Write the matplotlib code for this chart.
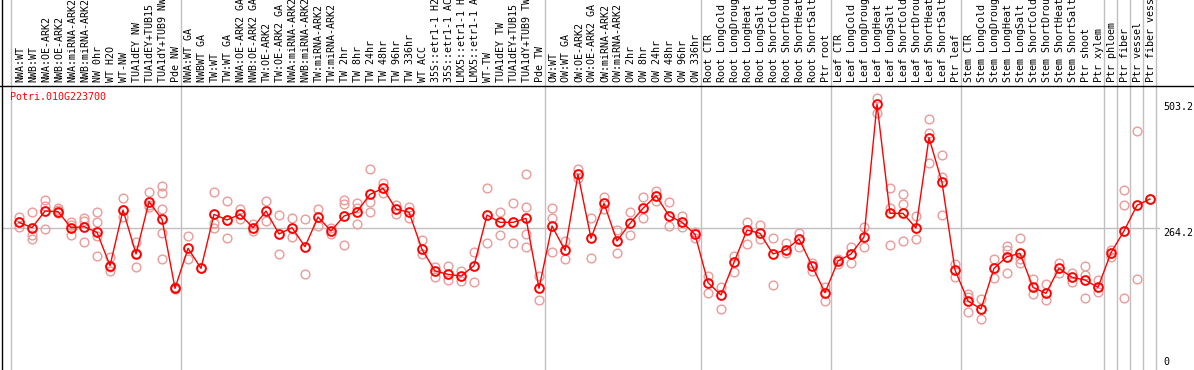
import matplotlib
matplotlib.use("Agg")
import matplotlib.pyplot as plt
from matplotlib.lines import Line2D
from matplotlib.transforms import blended_transform_factory

gene = "Potri.010G223700"

labels = [
    "NWA:WT", "NWB:WT", "NWA:OE-ARK2", "NWB:OE-ARK2", "NWA:miRNA-ARK2", "NWB:miRNA-ARK2",
    "NW 0hr", "WT H2O", "WT-NW", "TUA1dEY NW", "TUA1dEY+TUB15 NW", "TUA1dY+TUB9 NW", "Pde NW",
    "NWA:WT GA", "NWBWT GA", "TW:WT", "TW:WT GA", "NWA:OE-ARK2 GA", "NWB:OE-ARK2 GA",
    "TW:OE-ARK2", "TW:OE-ARK2 GA", "NWA:miRNA-ARK2 GA", "NWB:miRNA-ARK2 GA", "TW:miRNA-ARK2",
    "TW:miRNA-ARK2 GA", "TW 2hr", "TW 8hr", "TW 24hr", "TW 48hr", "TW 96hr", "TW 336hr",
    "WT ACC", "35S::etr1-1 H2O", "35S::etr1-1 ACC", "LMX5::etr1-1 H2O", "LMX5::etr1-1 ACC",
    "WT-TW", "TUA1dEY TW", "TUA1dEY+TUB15 TW", "TUA1dY+TUB9 TW", "Pde TW",
    "OW:WT", "OW:WT GA", "OW:OE-ARK2", "OW:OE-ARK2 GA", "OW:miRNA-ARK2", "OW:miRNA-ARK2 GA",
    "OW 2hr", "OW 8hr", "OW 24hr", "OW 48hr", "OW 96hr", "OW 336hr",
    "Root CTR", "Root LongCold", "Root LongDrought", "Root LongHeat", "Root LongSalt",
    "Root ShortCold", "Root ShortDrought", "Root ShortHeat", "Root ShortSalt", "Ptr root",
    "Leaf CTR", "Leaf LongCold", "Leaf LongDrought", "Leaf LongHeat", "Leaf LongSalt",
    "Leaf ShortCold", "Leaf ShortDrought", "Leaf ShortHeat", "Leaf ShortSalt", "Ptr leaf",
    "Stem CTR", "Stem LongCold", "Stem LongDrought", "Stem LongHeat", "Stem LongSalt",
    "Stem ShortCold", "Stem ShortDrought", "Stem ShortHeat", "Stem ShortSalt", "Ptr shoot",
    "Ptr xylem", "Ptr phloem", "Ptr fiber", "Ptr vessel", "Ptr fiber vessel",
]

group_sizes = [13, 28, 12, 10, 10, 11, 1, 1, 1, 1]

means = [
    275.0, 264.7, 296.8, 295.6, 264.7, 266.6, 255.7, 191.5, 298.8, 214.0, 314.8, 280.8, 147.8,
    224.9, 186.3, 290.4, 279.5, 290.4, 264.7, 296.8, 252.5, 264.7, 228.1, 285.3, 258.3, 287.2,
    295.6, 329.0, 340.5, 300.7, 294.3, 222.9, 181.2, 174.8, 171.5, 191.5, 289.1, 275.0, 275.0,
    282.7, 147.8,
    267.9, 221.0, 367.5, 244.2, 311.6, 239.0, 273.1, 302.0, 326.4, 287.8, 275.0, 251.9,
    158.7, 134.9, 197.9, 260.2, 253.8, 214.0, 222.3, 242.9, 191.5, 139.4,
    200.5, 214.0, 246.7, 503.2, 292.3, 292.3, 264.1, 438.2, 352.1, 183.1,
    123.4, 107.9, 186.3, 208.8, 215.2, 149.7, 138.1, 186.3, 169.0, 163.8, 149.7,
    216.5, 258.3, 307.8, 320.0,
]

replicates = [
    [285.9, 275.0, 266.6], [294.3, 250.6, 242.9], [318.0, 306.5, 261.5], [302.0, 298.8, 292.3],
    [275.0, 269.9, 250.6], [284.0, 277.6, 237.7], [294.3, 275.0, 249.3, 210.1],
    [208.8, 189.5, 181.2], [321.3, 298.8, 285.9], [237.7, 215.2, 189.5], [332.8, 308.4, 303.9],
    [345.0, 332.2, 300.7, 255.1, 203.7], [151.0, 145.8],
    [248.6, 203.7], [186.3], [332.8, 274.3, 264.7], [316.1, 279.5, 244.2], [300.7, 280.8],
    [271.1, 258.3], [316.1, 277.6], [289.1, 213.3], [284.0, 246.7], [280.8, 175.4],
    [300.7, 268.6], [264.7, 251.9], [318.0, 309.7, 231.3], [311.6, 302.0, 271.1],
    [377.1, 314.8, 294.3], [351.4, 332.2], [308.4, 291.0], [305.2, 284.0], [240.9, 213.3],
    [189.5, 169.0], [190.8, 163.8], [181.2, 162.6], [217.2, 159.3], [340.5, 234.5],
    [294.3, 249.9], [311.6, 234.5], [367.5, 303.9, 251.9, 226.8], [171.5, 124.6],
    [302.0, 284.0, 218.5], [239.0, 203.7], [377.1, 359.8], [284.0, 205.6], [324.5, 300.7],
    [260.2, 215.2], [294.3, 250.6], [324.5, 282.7], [336.0, 316.8], [313.5, 267.9],
    [287.8, 266.6], [257.0, 245.4],
    [171.5, 139.4], [151.0, 107.3], [210.7, 178.6], [276.3, 232.6], [269.9, 242.9],
    [244.2, 154.2], [235.8, 215.2], [253.8, 226.8], [197.2, 181.8], [151.0, 123.4],
    [203.7, 194.7], [228.1, 196.0], [266.6, 228.1], [514.0, 485.1], [341.8, 302.0, 231.3],
    [329.0, 309.7, 239.0], [287.2, 242.9], [473.5, 447.8, 388.7], [404.8, 363.0, 288.5],
    [194.0, 169.0],
    [136.9, 131.7, 102.2], [126.6, 88.0], [204.3, 167.1], [229.4, 221.7, 177.3],
    [244.8, 203.7, 197.2], [165.8, 136.2], [156.1, 125.3], [196.0, 178.0], [178.0, 160.6],
    [190.8, 173.5, 128.5], [163.8, 141.4],
    [221.7, 208.8], [337.3, 307.8, 128.5], [451.0, 165.1], [320.0],
]

scale_values = [503.2, 264.2, 0]

W, H = 1194, 370
mono = "DejaVu Sans Mono"
grey = "#c0c0c0"

fig = plt.figure(figsize=(W / 100, H / 100), dpi=100)
ax = fig.add_axes([2 / W, 0, 1158 / W, 285 / H])
ax.set_xlim(-1.31, 87.77)
ax.set_ylim(-9.6, 539.7)
ax.set_axis_off()

# group separators run through the label area too
cuts = [-0.65]
total = 0
for n in group_sizes:
    total += n
    cuts.append(total - 0.55)
for c in cuts:
    ax.axvline(c, ymin=0, ymax=H / 285, color=grey, lw=1, clip_on=False, zorder=0)
ax.axhline(scale_values[1], color=grey, lw=1, zorder=0)

xs = range(len(means))
for i, reps in enumerate(replicates):
    ax.plot([i] * len(reps), reps, "o", ms=6.3, mfc="none", mec="#ec9a9a", mew=1.0, zorder=2)
ax.plot(xs, means, "-", color="red", lw=1, zorder=3)
ax.plot(xs, means, "o", ms=6.3, mfc="none", mec="red", mew=1.4, zorder=4)

trans = blended_transform_factory(ax.transData, fig.transFigure)
for i, lab in enumerate(labels):
    ax.text(i + 0.08, (H - 82) / H, lab, rotation=90, ha="center", va="bottom",
            transform=trans, fontsize=7.2, family=mono, clip_on=False)

offsets = [-2.2, -3.4, 2.2]
for v, dy in zip(scale_values, offsets):
    ax.annotate(f"{v:g}", xy=(1.0, v), xycoords=ax.get_yaxis_transform(),
                xytext=(2.2, dy), textcoords="offset points", va="center", ha="left",
                fontsize=7.2, family=mono, annotation_clip=False)

fig.text(10 / W, 1 - 97 / H, gene, color="red", fontsize=7.2, family=mono, va="center")

fig.add_artist(Line2D([0, 1], [1 - 85.5 / H] * 2, color="black", lw=1, transform=fig.transFigure))
fig.add_artist(Line2D([2 / W] * 2, [0, 1], color="black", lw=1, transform=fig.transFigure))

fig.savefig("out.png", dpi=100)
